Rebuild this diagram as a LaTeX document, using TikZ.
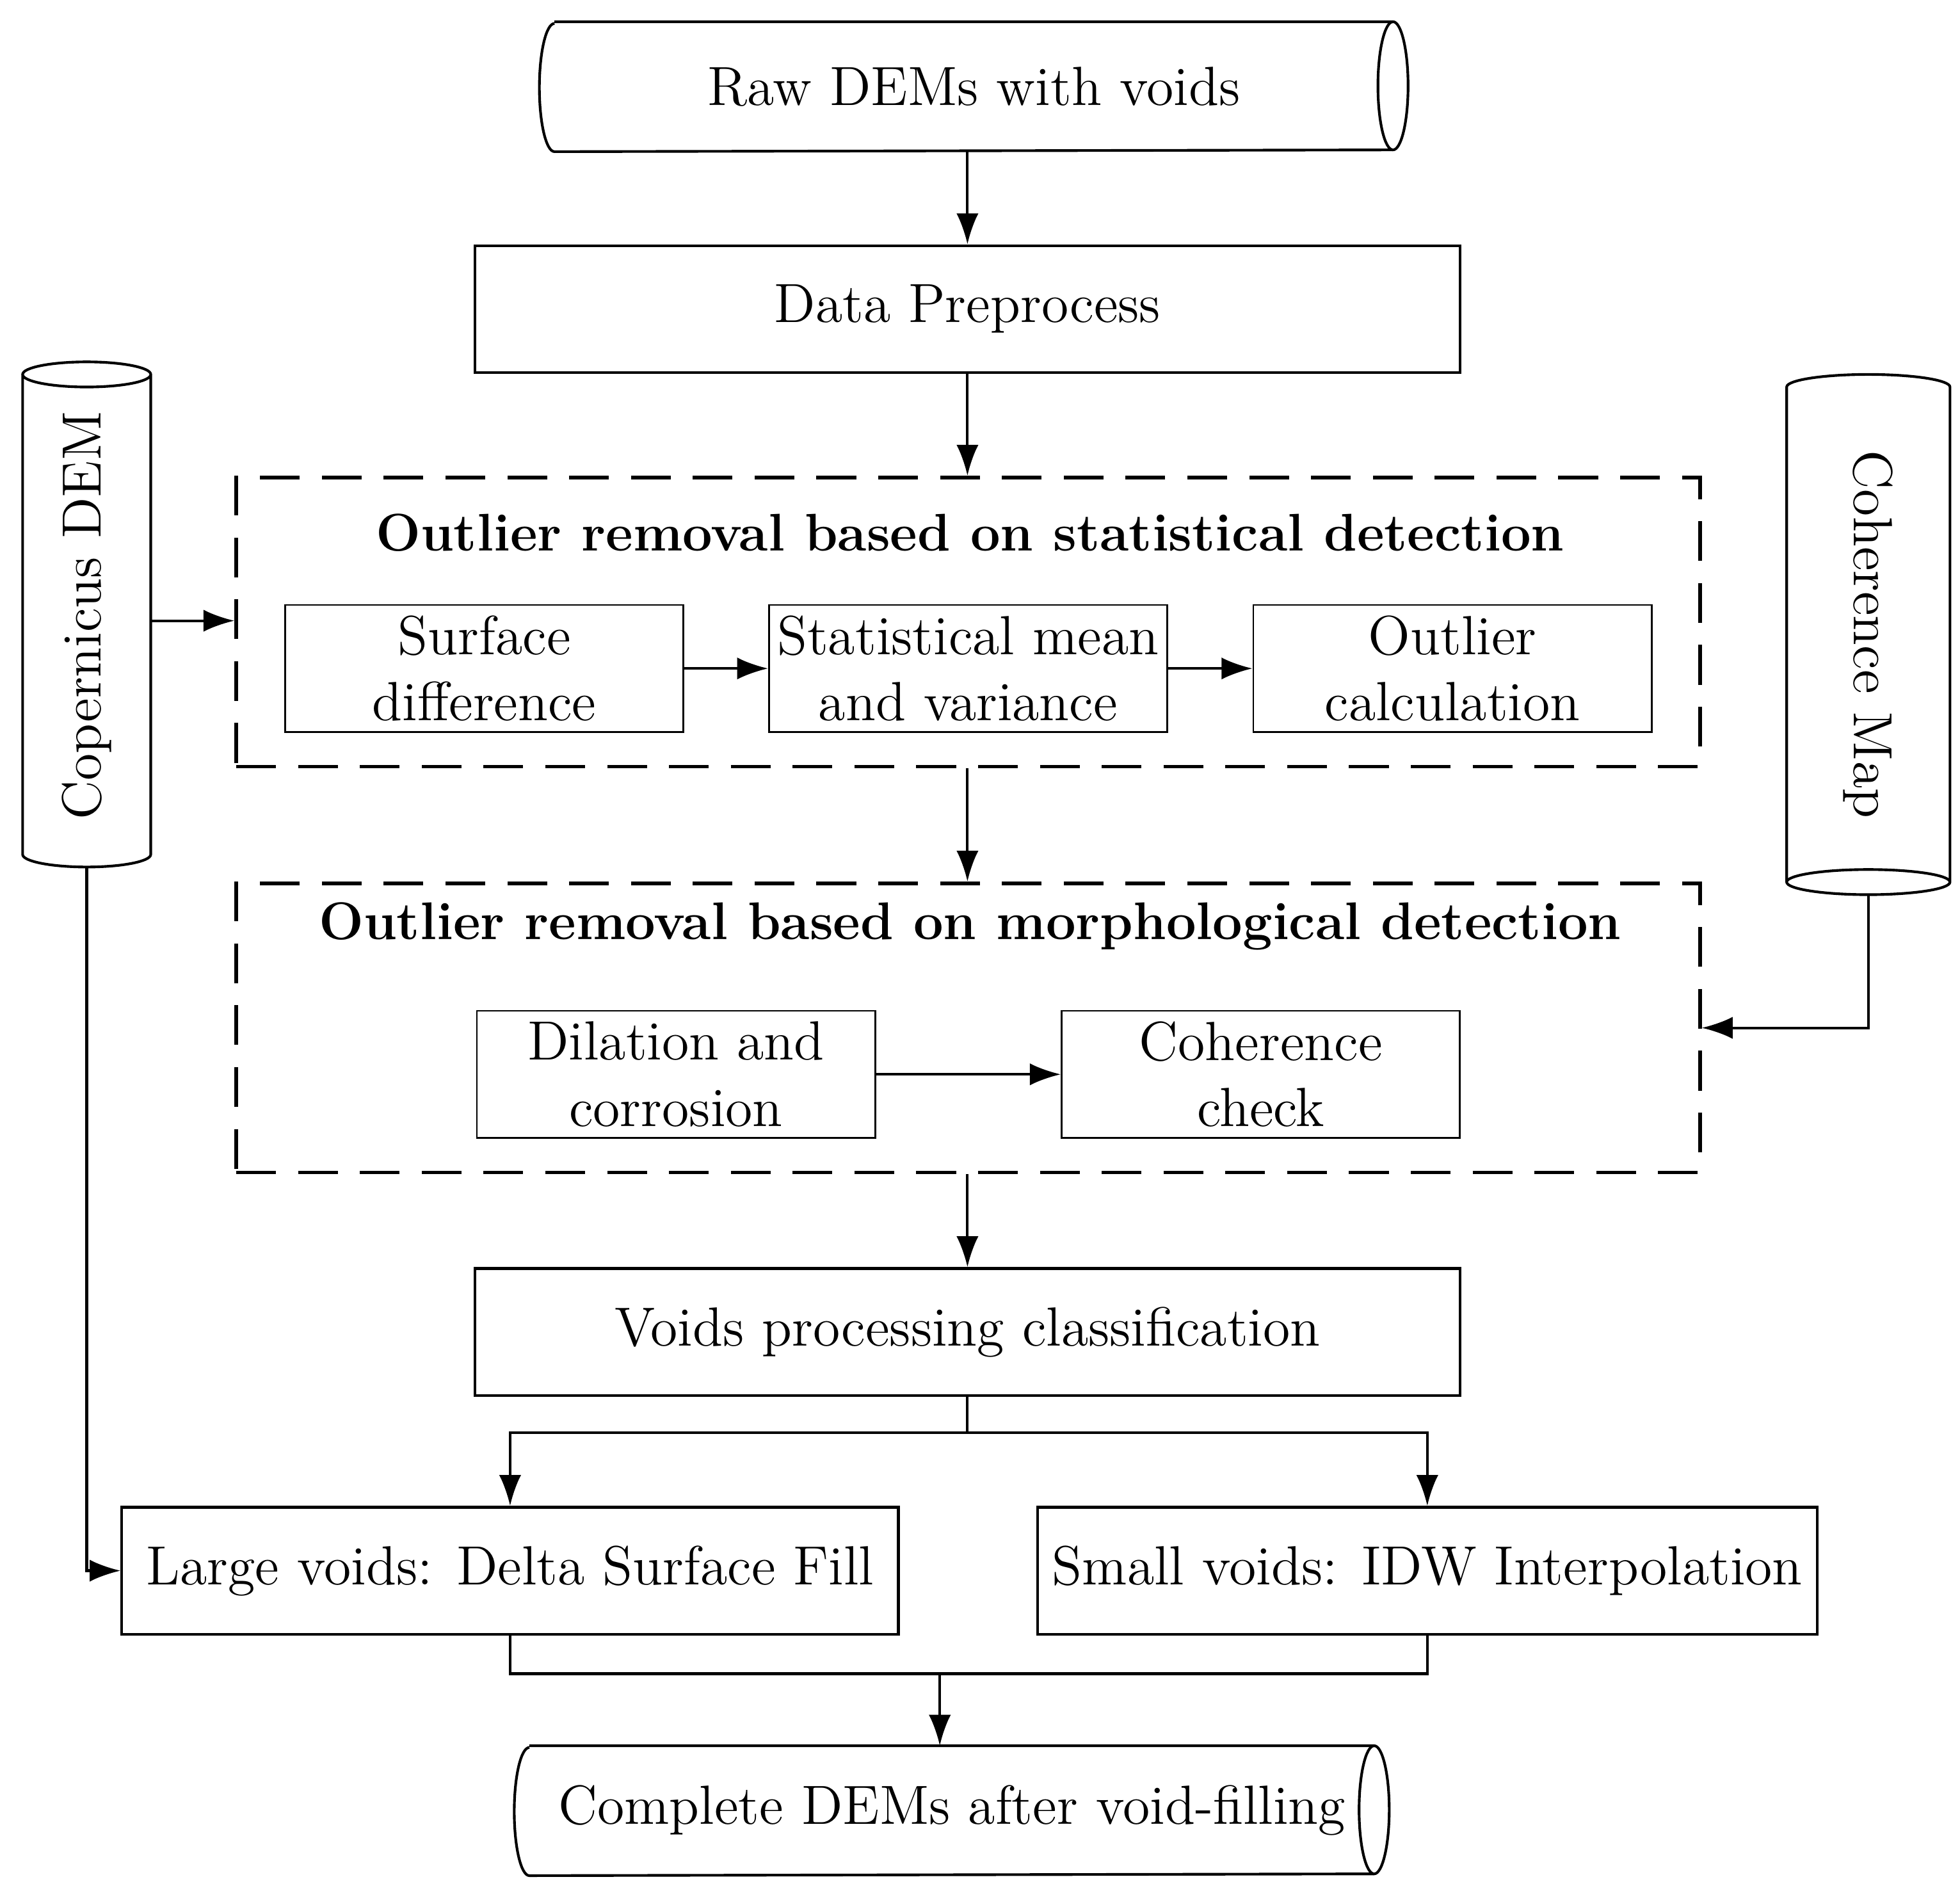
\documentclass[tikz,border=0pt]{standalone}
\usepackage{amsmath}
\usetikzlibrary{positioning,arrows.meta}
\tikzset{
  txt/.style={font=\fontsize{12.5}{15}\selectfont},
  proc/.style={draw, txt, semithick, minimum width=7.84cm, minimum height=1.01cm, align=center},
  sub/.style={draw, txt, minimum width=3.17cm, minimum height=1.01cm, align=center, inner sep=1pt},
  store/.style={txt, minimum height=1.02cm, align=center},
  group/.style={draw, thick, dash pattern=on 9pt off 5pt, minimum width=11.65cm, minimum height=2.3cm},
  arr/.style={-{Latex[length=7pt,width=5pt]}, semithick},
  ttl/.style={font=\fontsize{12}{15}\selectfont\bfseries}
}
% horizontal drum around a node
\newcommand{\drumh}[1]{%
  \draw[semithick] ([xshift=0.12cm]#1.north west) -- ([xshift=-0.12cm]#1.north east)
    arc[start angle=90, end angle=-90, x radius=0.12cm, y radius=0.51cm]
    -- ([xshift=0.12cm]#1.south west)
    arc[start angle=270, end angle=90, x radius=0.12cm, y radius=0.51cm];
  \draw[semithick] ([xshift=-0.12cm]#1.north east)
    arc[start angle=90, end angle=270, x radius=0.12cm, y radius=0.51cm];}
\begin{document}
\begin{tikzpicture}
    \useasboundingbox (0,0) rectangle (15.6,-14.99);

    % Inputs
    \node[store, minimum width=6.9cm] (raw) at (7.75,-0.69) {Raw DEMs with voids};
    \drumh{raw}
    \node[store, rotate=90] (cop) at (0.69,-4.9) {Copernicus DEM};
    \draw[semithick] (0.18,-2.98) -- (0.18,-6.8) arc[start angle=180, end angle=360, x radius=0.51cm, y radius=0.1cm]
        -- (1.20,-2.98) arc[start angle=0, end angle=360, x radius=0.51cm, y radius=0.1cm];
    \node[store, rotate=-90] (coh) at (14.87,-5.05) {Coherence Map};
    \draw[semithick] (14.22,-7.02) -- (14.22,-3.08) arc[start angle=180, end angle=0, x radius=0.65cm, y radius=0.1cm]
        -- (15.52,-7.02) arc[start angle=0, end angle=-360, x radius=0.65cm, y radius=0.1cm];
    \coordinate (copE) at (1.20,-4.94);
    \coordinate (copS) at (0.69,-6.9);
    \coordinate (cohS) at (14.87,-7.12);

    % Main chain
    \node[proc] (pre) at (7.70,-2.46) {Data Preprocess};

    % Statistical detection
    \node[group] (stat) at (7.705,-4.95) {};
    \node[ttl] (stattitle) at (7.72,-4.24) {Outlier removal based on statistical detection};
    \node[sub] (surf) at (3.855,-5.32) {Surface\\difference};
    \node[sub] (mean) at (7.705,-5.32) {Statistical mean\\and variance};
    \node[sub] (outl) at (11.56,-5.32) {Outlier\\calculation};

    % Morphological detection
    \node[group] (morph) at (7.705,-8.18) {};
    \node[ttl] (morphtitle) at (7.72,-7.37) {Outlier removal based on morphological detection};
    \node[sub] (dil) at (5.38,-8.55) {Dilation and\\corrosion};
    \node[sub] (chk) at (10.035,-8.55) {Coherence\\check};

    \node[proc] (cls) at (7.70,-10.6) {Voids processing classification};
    \node[proc, minimum width=6.18cm] (large) at (4.06,-12.5) {Large voids: Delta Surface Fill};
    \node[proc, minimum width=6.18cm] (small) at (11.36,-12.5) {Small voids: IDW Interpolation};
    \node[store, minimum width=6.95cm] (out) at (7.575,-14.41) {Complete DEMs after void-filling};
    \drumh{out}

    % Junctions
    \coordinate (split) at (7.70,-11.4);
    \coordinate (merge) at (7.48,-13.32);

    % Connectors
    \draw[arr] (raw.south -| pre) -- (pre);
    \draw[arr] (pre) -- (pre |- stat.north);
    \draw[arr] (surf) -- (mean);
    \draw[arr] (mean) -- (outl);
    \draw[arr] (stat.south -| pre) -- (pre |- morph.north);
    \draw[arr] (dil) -- (chk);
    \draw[arr] (morph.south -| pre) -- (cls);
    \draw[semithick] (cls) -- (split);
    \draw[arr] (split) -| (large);
    \draw[arr] (split) -| (small);
    \draw[semithick] (large.south) |- (merge) -| (small.south);
    \draw[arr] (merge) -- (out.north -| merge);
    \draw[arr] (copE) -- (stat.west |- copE);
    \draw[arr] (copS) |- (large.west);
    \draw[arr] (cohS) |- (morph.east |- 0,-8.18);
\end{tikzpicture}
\end{document}
